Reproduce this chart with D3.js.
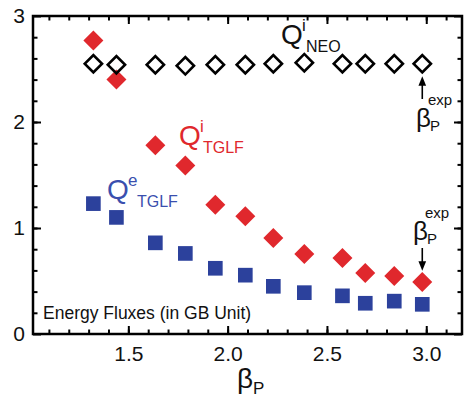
<!DOCTYPE html>
<html>
<head>
<meta charset="utf-8">
<script src="https://cdn.jsdelivr.net/npm/d3@7"></script>
<style>
  body { margin: 0; background: #fff; }
  svg text { font-family: Arial, "Liberation Sans", sans-serif; }
</style>
</head>
<body>
<svg id="chart" width="466" height="403"></svg>
<script>
// beta_p scan, energy fluxes in GB units
var betaP   = [1.324, 1.440, 1.636, 1.787, 1.938, 2.089, 2.230, 2.386, 2.578, 2.693, 2.839, 2.980];
var qiNeo   = [2.55, 2.54, 2.54, 2.53, 2.54, 2.54, 2.55, 2.56, 2.55, 2.55, 2.55, 2.55];
var qiTglf  = [2.77, 2.40, 1.78, 1.59, 1.22, 1.11, 0.905, 0.755, 0.717, 0.575, 0.547, 0.49];
var qeTglf  = [1.23, 1.10, 0.86, 0.76, 0.62, 0.555, 0.45, 0.39, 0.36, 0.29, 0.31, 0.28];
var xTicks  = [1.5, 2.0, 2.5, 3.0];
var yTicks  = [0, 1, 2, 3];
var betaExp = 2.980;

var red = "#e0282d", blue = "#2c419c";

var svg = d3.select("#chart");
// note: "top" is reserved on window, so use a box object
var box = {left: 33, right: 462, top: 16, bottom: 334};

var x = d3.scaleLinear().domain([1.02, 3.18]).range([box.left, box.right]);
var y = d3.scaleLinear().domain([0, 3]).range([box.bottom, box.top]);

var xMinor = d3.range(1.1, 3.15, 0.1).map(v => +v.toFixed(1));
var yMinor = d3.range(0.2, 3, 0.2).map(v => +v.toFixed(1));

function styleAxis(g){
  g.select(".domain").remove();
  g.selectAll("line").attr("stroke", "#000").attr("stroke-width", 2);
  g.selectAll("text").attr("font-size", 21).attr("fill", "#111");
}

// minor ticks (inward, all four sides)
svg.append("g").attr("transform", `translate(0,${box.bottom})`)
  .call(d3.axisBottom(x).tickValues(xMinor).tickSize(-4.5).tickSizeOuter(0).tickFormat(""))
  .call(styleAxis);
svg.append("g").attr("transform", `translate(0,${box.top})`)
  .call(d3.axisTop(x).tickValues(xMinor).tickSize(-4.5).tickSizeOuter(0).tickFormat(""))
  .call(styleAxis);
svg.append("g").attr("transform", `translate(${box.left},0)`)
  .call(d3.axisLeft(y).tickValues(yMinor).tickSize(-4.5).tickSizeOuter(0).tickFormat(""))
  .call(styleAxis);
svg.append("g").attr("transform", `translate(${box.right},0)`)
  .call(d3.axisRight(y).tickValues(yMinor).tickSize(-4.5).tickSizeOuter(0).tickFormat(""))
  .call(styleAxis);

// major ticks + labels
svg.append("g").attr("transform", `translate(0,${box.bottom})`)
  .call(d3.axisBottom(x).tickValues(xTicks).tickSize(-8).tickSizeOuter(0).tickPadding(12).tickFormat(d3.format(".1f")))
  .call(styleAxis);
svg.append("g").attr("transform", `translate(0,${box.top})`)
  .call(d3.axisTop(x).tickValues(xTicks).tickSize(-8).tickSizeOuter(0).tickFormat(""))
  .call(styleAxis);
svg.append("g").attr("transform", `translate(${box.left},0)`)
  .call(d3.axisLeft(y).tickValues(yTicks).tickSize(-8).tickSizeOuter(0).tickPadding(8).tickFormat(d3.format("d")))
  .call(styleAxis);
svg.append("g").attr("transform", `translate(${box.right},0)`)
  .call(d3.axisRight(y).tickValues(yTicks).tickSize(-8).tickSizeOuter(0).tickFormat(""))
  .call(styleAxis);

// frame
svg.append("rect")
  .attr("x", box.left).attr("y", box.top)
  .attr("width", box.right - box.left).attr("height", box.bottom - box.top)
  .attr("fill", "none").attr("stroke", "#000").attr("stroke-width", 2.5);

// markers
var diamond = d3.symbol().type(d3.symbolSquare).size(200)();
var openDiamond = d3.symbol().type(d3.symbolSquare).size(150)();
var square = d3.symbol().type(d3.symbolSquare).size(215)();

svg.append("g").selectAll("path")
  .data(betaP.map((b, i) => [b, qeTglf[i]]))
  .join("path")
  .attr("d", square)
  .attr("transform", d => `translate(${x(d[0])},${y(d[1])})`)
  .attr("fill", blue);

svg.append("g").selectAll("path")
  .data(betaP.map((b, i) => [b, qiTglf[i]]))
  .join("path")
  .attr("d", diamond)
  .attr("transform", d => `translate(${x(d[0])},${y(d[1])}) rotate(45)`)
  .attr("fill", red);

svg.append("g").selectAll("path")
  .data(betaP.map((b, i) => [b, qiNeo[i]]))
  .join("path")
  .attr("d", openDiamond)
  .attr("transform", d => `translate(${x(d[0])},${y(d[1])}) rotate(45)`)
  .attr("fill", "none")
  .attr("stroke", "#000")
  .attr("stroke-width", 2.6);

// series labels
function qLabel(px, py, sup, sub, color, subDx){
  var g = svg.append("g").attr("fill", color);
  g.append("text").attr("x", px).attr("y", py).attr("font-size", 28).text("Q");
  g.append("text").attr("x", px + 21).attr("y", py - 13).attr("font-size", 17).text(sup);
  g.append("text").attr("x", px + subDx).attr("y", py + 8).attr("font-size", 16).text(sub);
}
qLabel(281, 44, "i", "NEO", "#111", 25);
qLabel(179, 145, "i", "TGLF", red, 24);
qLabel(107, 199, "e", "TGLF", "#3a4fae", 30);

svg.append("text")
  .attr("x", 43).attr("y", 319)
  .attr("font-size", 17.5)
  .attr("fill", "#111")
  .text("Energy Fluxes (in GB Unit)");

// axis title
var xt = svg.append("text").attr("x", 237).attr("y", 388).attr("fill", "#111");
xt.append("tspan").attr("font-size", 28).text("β");
xt.append("tspan").attr("font-size", 17).attr("dy", 6).text("P");

// beta_p exp annotations
svg.append("defs").append("marker")
  .attr("id", "head")
  .attr("viewBox", "0 0 10 10")
  .attr("refX", 5).attr("refY", 5)
  .attr("markerWidth", 6).attr("markerHeight", 6)
  .attr("orient", "auto")
  .append("path").attr("d", "M0,1 L10,5 L0,9 Z").attr("fill", "#000");

var xe = x(betaExp);
svg.append("line")
  .attr("x1", xe).attr("x2", xe).attr("y1", 99).attr("y2", 81)
  .attr("stroke", "#000").attr("stroke-width", 1.6)
  .attr("marker-end", "url(#head)");
svg.append("line")
  .attr("x1", xe).attr("x2", xe).attr("y1", 248).attr("y2", 266)
  .attr("stroke", "#000").attr("stroke-width", 1.6)
  .attr("marker-end", "url(#head)");

function betaExpLabel(px, py){
  var g = svg.append("g").attr("fill", "#111");
  g.append("text").attr("x", px).attr("y", py).attr("font-size", 26).text("β");
  g.append("text").attr("x", px + 14).attr("y", py + 4).attr("font-size", 15).text("P");
  g.append("text").attr("x", px + 12).attr("y", py - 22).attr("font-size", 15).text("exp");
}
betaExpLabel(416, 127);
betaExpLabel(413, 240);
</script>
</body>
</html>
